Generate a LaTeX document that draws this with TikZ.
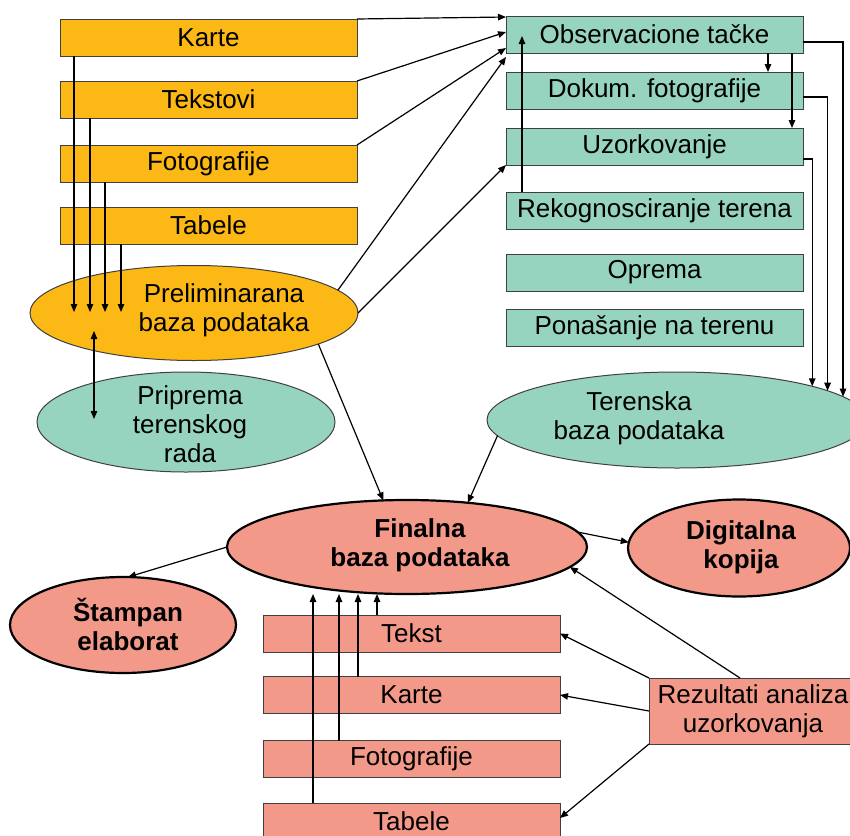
\documentclass[tikz,border=0pt]{standalone}
\usepackage{fontspec}
\setmainfont{Liberation Sans}
\usetikzlibrary{arrows.meta,shapes.geometric}
\definecolor{ylw}{HTML}{FCB814}
\definecolor{tea}{HTML}{97D4C0}
\definecolor{sal}{HTML}{F3998A}
\begin{document}
\begin{tikzpicture}[x=1pt,y=-1pt,
 box/.style={draw=black!75, line width=1pt, minimum width=297pt, minimum height=37pt, inner sep=0pt, outer sep=0pt, font=\fontsize{26}{29}\selectfont},
 ybox/.style={box, fill=ylw}, tbox/.style={box, fill=tea}, pbox/.style={box, fill=sal},
 ell/.style={ellipse, inner sep=0pt, outer sep=0pt, draw=black!75, line width=1pt},
 bell/.style={ellipse, inner sep=0pt, outer sep=0pt, draw=black, line width=2.2pt, fill=sal},
 lbl/.style={align=center, font=\fontsize{26}{29}\selectfont, inner sep=0pt},
 blbl/.style={align=center, font=\fontsize{26}{29}\selectfont\bfseries, inner sep=0pt},
 tip/.style={Triangle[length=8pt,width=6.5pt]},
 conn/.style={line width=1.2pt, -{Triangle[length=8pt,width=6.5pt]}},
]
\useasboundingbox (0,0) rectangle (850,835);
% yellow boxes
\node[ybox] (karte) at (208.5,37.5) {Karte};
\node[ybox] (tekst) at (208.5,99.5) {Tekstovi};
\node[ybox] (fotoy) at (208.5,163.5) {Fotografije};
\node[ybox] (taby) at (208.5,225.5) {Tabele};
% teal boxes
\node[tbox] (obs) at (654.5,34.5) {Observacione tačke};
\node[tbox] (dok) at (654.5,90.5) {Dokum. fotografije};
\node[tbox] (uzo) at (654.5,146.5) {Uzorkovanje};
\node[tbox] (rek) at (654.5,210.5) {Rekognosciranje terena};
\node[tbox] (opr) at (654.5,272.5) {Oprema};
\node[tbox] (pon) at (654.5,328) {Ponašanje na terenu};
% pink boxes
\node[pbox] (tekstp) at (411.5,633.5) {Tekst};
\node[pbox] (kartep) at (411.5,695) {Karte};
\node[pbox] (fotop) at (411.5,759) {Fotografije};
\node[pbox] (tabp) at (411.5,821.5) {Tabele};
\node[pbox, minimum width=208pt, minimum height=66pt, align=center] (rez) at (753,711) {Rezultati analiza\\uzorkovanja};
% ellipses
\node[ell, fill=ylw, minimum width=328pt, minimum height=95pt] (prelim) at (194,313) {};
\node[ell, fill=tea, minimum width=298pt, minimum height=100pt] (prip) at (186,422) {};
\node[ell, fill=tea, minimum width=380pt, minimum height=96pt] (teren) at (677,420) {};
\node[bell, minimum width=360pt, minimum height=94pt] (final) at (407,547) {};
\node[bell, minimum width=222pt, minimum height=97pt] (digit) at (739,548) {};
\node[bell, minimum width=226pt, minimum height=96pt] (stamp) at (123,625) {};
% ellipse texts
\node[lbl] (prelimT) at (224,310) {Preliminarana\\baza podataka};
\node[lbl] (pripT) at (190,424) {Priprema\\terenskog\\rada};
\node[lbl] (terT) at (639,418) {Terenska\\baza podataka};
\node[blbl] (finT) at (420,545) {Finalna\\baza podataka};
\node[blbl] (digT) at (741,547) {Digitalna\\kopija};
\node[blbl] (stT) at (128,624) {Štampan\\elaborat};
% coordinates for free ends
\coordinate (e1) at (74,312);
\coordinate (e2) at (90,312);
\coordinate (e3) at (105,312);
\coordinate (e4) at (121,312);
\coordinate (d1) at (94,331);
\coordinate (d2) at (94,419);
\coordinate (rektip) at (522,36);
\coordinate (f1) at (313,594);
\coordinate (f2) at (339,594);
\coordinate (f3) at (358,594);
\coordinate (f4) at (377,594);
% connectors
\draw[conn] (karte.north east) -- ([yshift=-1pt]obs.north west);
\draw[conn] (tekst.north east) -- ([yshift=2.5pt]obs.west);
\draw[conn] (fotoy.north east) -- ([yshift=-13.5pt]obs.west);
\draw[conn] (prelim.9) -- ([yshift=-4pt]obs.south west);
\draw[conn] (prelim.east) -- (uzo.south west);
\draw[conn] (prelim.-14) -- (final.117);
\draw[conn] (teren.185) -- (final.36);
\draw[conn] (final.5) -- (digit.177);
\draw[conn] (final.west) -- (stamp.84);
\draw[conn] ([xshift=-13pt]rez.north) -- (final.-7);
\draw[conn] (rez.north west) -- (tekstp.east);
\draw[conn] (rez.west) -- (kartep.east);
\draw[conn] (rez.south west) -- ([yshift=3.5pt]tabp.east);
\draw[conn] ([xshift=-134.5pt]karte.south) -- (e1);
\draw[conn] ([xshift=-118.5pt]tekst.south) -- (e2);
\draw[conn] ([xshift=-103.5pt]fotoy.south) -- (e3);
\draw[conn] ([xshift=-87.5pt]taby.south) -- (e4);
\draw[line width=1.2pt, {Triangle[length=8pt,width=6.5pt]}-{Triangle[length=8pt,width=6.5pt]}] (d1) -- (d2);
\draw[conn] ([xshift=113.5pt]obs.south) -- ([xshift=113.5pt]dok.north);
\draw[conn] ([xshift=137.5pt]obs.south) -- ([xshift=137.5pt]uzo.north);
\draw[conn] ([xshift=-132.5pt]rek.north) -- (rektip);
\draw[conn] ([yshift=-7.5pt]obs.east) -| (teren.8);
\draw[conn] ([yshift=-6.5pt]dok.east) -| (teren.11);
\draw[conn] ([yshift=-12.5pt]uzo.east) -| (teren.14);
\draw[conn] ([xshift=-98.5pt]tabp.north) -- (f1);
\draw[conn] ([xshift=-72.5pt]fotop.north) -- (f2);
\draw[conn] ([xshift=-53.5pt]kartep.north) -- (f3);
\draw[conn] ([xshift=-34.5pt]tekstp.north) -- (f4);
\end{tikzpicture}
\end{document}
